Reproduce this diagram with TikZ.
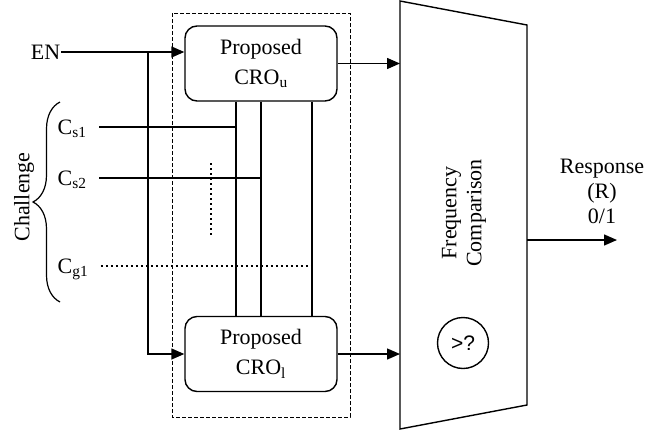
\documentclass[tikz,border=0pt]{standalone}
\usepackage{fontspec}
\setmainfont{Liberation Serif}
\newfontfamily\sansf{Liberation Sans}
\usetikzlibrary{arrows.meta,decorations.pathreplacing}

\begin{document}
\begin{tikzpicture}[x=1pt,y=-1pt,line width=1.4pt,
    font=\fontsize{22}{25}\selectfont,
    crobox/.style={draw,rounded corners=12pt,minimum width=152pt,minimum height=75pt,align=center,inner sep=0pt},
    clabel/.style={anchor=west,inner sep=0pt,text height=14pt,text depth=0pt},
    sig/.style={-{Triangle[length=13pt,width=11pt]}},
    dotline/.style={dash pattern=on 2pt off 3pt,line width=1.6pt}]
    \useasboundingbox (0,0) rectangle (666,431);

    % enable input
    \node[anchor=east,inner sep=0pt] (en) at (61,52) {EN};
    \node[crobox] (cu) at (261,63.5) {Proposed\\[5pt]CRO\textsubscript{u}};
    \node[crobox] (cl) at (261,354) {Proposed\\[5pt]CRO\textsubscript{l}};
    \draw[dash pattern=on 4pt off 2pt,line width=1pt] (172,13) rectangle (350,417);
    \coordinate (split) at (148,52);
    \draw[sig] (en.east) -- (cu.west |- en.east);
    \draw[sig] (split) |- (cl.west);

    % challenge bits
    \coordinate (v1) at ([xshift=-25pt]cu.south);
    \coordinate (v2) at (cu.south);
    \coordinate (v3) at ([xshift=51pt]cu.south);
    \foreach \v in {v1,v2,v3}
        \draw (\v) -- (\v |- cl.north);
    \node[clabel] (cs1) at (57,127) {C\textsubscript{s1}};
    \node[clabel] (cs2) at (57,178) {C\textsubscript{s2}};
    \node[clabel] (cg1) at (57,266) {C\textsubscript{g1}};
    \draw ([xshift=12pt]cs1.east) -- (cs1.east -| v1);
    \draw ([xshift=12pt]cs2.east) -- (cs2.east -| v2);
    \draw[dotline] ([xshift=12pt]cg1.east) -- (cg1.east -| v3);
    \draw[dotline] (211,163) -- (211,236);
    \draw[line width=1.2pt,decorate,decoration={brace,amplitude=27pt}] (60,302) -- (60,102);
    \node[rotate=90] (chal) at (24,197) {Challenge};

    % comparator
    \draw (400,1) -- (527,25) -- (527,405) -- (400,429) -- cycle;
    \coordinate (mxl) at (400,0);
    \coordinate (mxr) at (527,240);
    \coordinate (out) at (617,240);
    \draw[sig] (cu.east) -- (cu.east -| mxl);
    \draw[sig] (cl.east) -- (cl.east -| mxl);
    \draw[sig] (mxr) -- (out);
    \node[rotate=90,align=center] (fc) at (464,213) {Frequency\\Comparison};
    \node[draw,circle,minimum size=51pt,inner sep=0pt,font=\sansf\fontsize{21}{22}\selectfont] (cmp) at (463,343) {>?};
    \node[align=center] (resp) at (602,191) {Response\\(R)\\0/1};
\end{tikzpicture}
\end{document}
